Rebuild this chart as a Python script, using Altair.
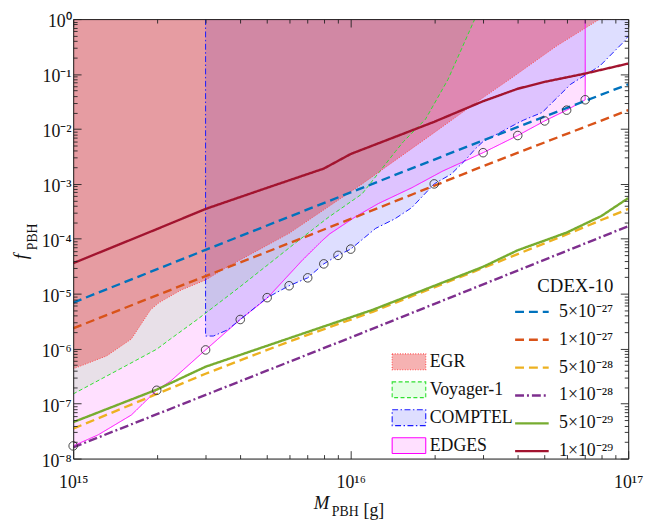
import altair as alt
import pandas as pd

FONT = "Liberation Serif"

# ---------------- excluded regions: lower boundary of each (M [g], f) ----------------
egr_M = [1e15, 1.32e15, 1.62e15, 1.9e15, 2.04e15, 2.45e15, 3e15, 3.6e15, 6e15, 1.1e16,
         1.86e16, 2.95e16, 3.9e16, 5.5e16, 7.9e16, 1e17]
egr_f = [4.3e-7, 7.4e-7, 1.5e-6, 5.1e-6, 6.9e-6, 1.17e-5, 1.78e-5, 3.1e-5, 1.26e-4, 1.0e-3,
         6.6e-3, 3.5e-2, 9.3e-2, 0.32, 1.0, 1.0]

voy_M = [1e15, 1.55e15, 2e15, 2.24e15, 2.8e15, 4e15, 6.3e15, 8.3e15, 1.1e16, 1.45e16,
         1.55e16, 1.86e16, 2.24e16, 2.8e16]
voy_f = [1.5e-7, 4.9e-7, 9.8e-7, 1.5e-6, 3.4e-6, 1.35e-5, 8.3e-5, 2.45e-4, 6.6e-4, 3.9e-3,
         5.9e-3, 1.5e-2, 7.9e-2, 1.0]

cmp_M = [3e15, 3.2e15, 3.6e15, 4e15, 5e15, 6e15, 7e15, 8e15, 9e15, 1e16, 1.23e16, 1.44e16,
         1.66e16, 2e16, 2.3e16, 2.57e16, 2.82e16, 3e16, 3.9e16, 4.2e16, 4.9e16, 6.2e16,
         7.9e16, 9.8e16, 1e17]
cmp_f = [1.7e-6, 1.7e-6, 2.2e-6, 3.4e-6, 8.5e-6, 1.4e-5, 1.95e-5, 3.5e-5, 5.0e-5, 6.5e-5,
         1.55e-4, 2.3e-4, 3.7e-4, 1.0e-3, 1.5e-3, 2.6e-3, 4.4e-3, 5.9e-3, 1.2e-2, 1.45e-2,
         2.0e-2, 6.5e-2, 0.14, 0.42, 0.5]

edg_M = [1e15, 1.23e15, 1.62e15, 2e15, 2.25e15, 3e15, 4e15, 5e15, 6.7e15, 7.9e15, 8.4e15,
         1.05e16, 1.26e16, 1.66e16, 2.14e16, 3e16, 4e16, 5e16, 6e16, 7e16]
edg_f = [1.7e-8, 2.7e-8, 6.2e-8, 1.75e-7, 2.6e-7, 9.5e-7, 3.4e-6, 8.3e-6, 4.1e-5, 9.3e-5,
         1.23e-4, 2.6e-4, 4.4e-4, 8.5e-4, 1.7e-3, 3.7e-3, 7.6e-3, 1.4e-2, 2.2e-2, 3.4e-2]

# ---------------- CDEX-10 projected lines ----------------
c1_M = [1e15, 3e15, 1e16, 3e16, 1e17]
c1_f = [6.9e-6, 6.3e-5, 7.0e-4, 6.2e-3, 6.5e-2]
c2_M = [1e15, 3e15, 1e16, 3e16, 1e17]
c2_f = [2.35e-6, 2.1e-5, 2.3e-4, 2.1e-3, 2.2e-2]
c3_M = [1e15, 3e15, 6e15, 1.2e16, 3e16, 6e16, 8e16, 1e17]
c3_f = [3.5e-8, 3.5e-7, 1.35e-6, 4.7e-6, 2.95e-5, 1.2e-4, 2.2e-4, 3.5e-4]
c4_M = [1e15, 1e16, 1e17]
c4_f = [1.6e-8, 1.6e-6, 1.7e-4]
c5_M = [1e15, 2e15, 3e15, 6e15, 1.2e16, 3e16, 4e16, 6e16, 8e16, 1e17]
c5_f = [4.6e-8, 1.8e-7, 4.7e-7, 1.55e-6, 5.1e-6, 3.1e-5, 6.2e-5, 1.3e-4, 2.6e-4, 5.5e-4]
c6_M = [1e15, 2e15, 3e15, 5e15, 8e15, 1e16, 2e16, 3e16, 4e16, 5e16, 7e16, 1e17]
c6_f = [3.6e-5, 1.5e-4, 3.5e-4, 8.5e-4, 1.9e-3, 3.5e-3, 1.35e-2, 3.2e-2, 5.4e-2, 7.2e-2,
        0.102, 0.155]

# ---------------- open circle markers ----------------
circ_M = [1e15, 2e15, 3e15, 4e15, 5e15, 6e15, 7e15, 8e15, 9e15, 1e16, 2e16, 3e16, 4e16,
          5e16, 6e16, 7e16]
circ_f = [1.7e-8, 1.75e-7, 9.5e-7, 3.4e-6, 8.5e-6, 1.4e-5, 1.95e-5, 3.5e-5, 5.0e-5, 6.5e-5,
          1.0e-3, 3.7e-3, 7.6e-3, 1.4e-2, 2.2e-2, 3.4e-2]

# ---------------- labels / styles ----------------
reg_names = ["EGR", "Voyager-1", "COMPTEL", "EDGES"]
reg_fill = ["rgba(224,0,0,0.3)", "rgba(0,255,0,0.1)", "rgba(0,0,255,0.13)", "rgba(255,0,255,0.12)"]
reg_stroke = ["#FF4A4A", "#30E030", "#1A1AFF", "#FF00FF"]
reg_dash = [[1, 1.6], [4, 2.5], [6, 2.5, 1.5, 2.5], [1, 0]]
reg_width = [1.0, 1.0, 1.1, 1.3]

cdex_names = ["5×10⁻²⁷", "1×10⁻²⁷", "5×10⁻²⁸", "1×10⁻²⁸", "5×10⁻²⁹", "1×10⁻²⁹"]
cdex_colors = ["#0072BD", "#D95319", "#EDB120", "#7E2F8E", "#77AC30", "#A2142F"]
cdex_dash = [[9, 5], [9, 5], [9, 5], [9, 3, 2, 3], [1, 0], [1, 0]]

x_dec = [1e15, 1e16, 1e17]
x_dec_labels = ["10¹⁵", "10¹⁶", "10¹⁷"]
y_dec = [1.0, 1e-1, 1e-2, 1e-3, 1e-4, 1e-5, 1e-6, 1e-7, 1e-8]
y_dec_labels = ["10⁰", "10⁻¹", "10⁻²", "10⁻³", "10⁻⁴", "10⁻⁵", "10⁻⁶", "10⁻⁷", "10⁻⁸"]

x_ticks = [m * 10.0 ** e for e in (15, 16) for m in range(1, 10)] + [1e17]
y_ticks = [m * 10.0 ** e for e in range(-8, 0) for m in range(1, 10)] + [1.0]

# ---------------- tables ----------------
rows = []
for name, Ms, fs in [("Voyager-1", voy_M, voy_f), ("EDGES", edg_M, edg_f),
                     ("COMPTEL", cmp_M, cmp_f), ("EGR", egr_M, egr_f)]:
    for m, f in zip(Ms, fs):
        rows.append({"region": name, "M": m, "f": f, "top": 1.0})
reg_df = pd.DataFrame(rows)

# boundary polylines (with the vertical edges of COMPTEL and EDGES)
rows = []
for name, Ms, fs in [("Voyager-1", voy_M, voy_f), ("EDGES", edg_M + [edg_M[-1]], edg_f + [1.0]),
                     ("COMPTEL", [cmp_M[0]] + cmp_M, [1.0] + cmp_f), ("EGR", egr_M, egr_f)]:
    for i, (m, f) in enumerate(zip(Ms, fs)):
        rows.append({"region": name, "M": m, "f": f, "i": i})
bnd_df = pd.DataFrame(rows)

rows = []
for name, Ms, fs in zip(cdex_names, [c1_M, c2_M, c3_M, c4_M, c5_M, c6_M],
                        [c1_f, c2_f, c3_f, c4_f, c5_f, c6_f]):
    for m, f in zip(Ms, fs):
        rows.append({"cdex": name, "M": m, "f": f})
cdex_df = pd.DataFrame(rows)

circ_df = pd.DataFrame({"M": circ_M, "f": circ_f})


def label_expr(vals, labs):
    s = ""
    for v, lab in zip(vals, labs):
        s += f"abs(datum.value/{v:g} - 1) < 1e-6 ? '{lab}' : "
    return s + "''"


def per_entry(values):
    s = ""
    for name, v in zip(reg_names[:-1], values[:-1]):
        s += f"datum.value == '{name}' ? {v} : "
    return s + f"{values[-1]}"


MINOR = "abs(log(datum.value)/LN10 - round(log(datum.value)/LN10)) > 1e-6"
tick_dash = {"condition": {"test": MINOR, "value": [4, 60]}, "value": [20, 0]}
TS = {"expr": "-8"}

common_axis = dict(grid=False, tickSize=TS, tickDash=tick_dash, tickColor="#222",
                   tickWidth=0.9, domainColor="#222", domainWidth=1, zindex=1,
                   labelFont=FONT, labelFontSize=18, labelColor="#111",
                   labelFlush=False, labelOverlap=False, titleFont=FONT,
                   titleColor="#111", titleFontWeight="normal")

x_axis_bottom = alt.Axis(orient="bottom", values=x_ticks, labelExpr=label_expr(x_dec, x_dec_labels),
                         labelPadding=23, title="M", titleFontStyle="italic", titleFontSize=19,
                         titleX=251, titleY=51, titleAlign="center", titleBaseline="alphabetic",
                         **common_axis)
x_axis_top = alt.Axis(orient="top", values=x_ticks, labels=False, title="PBH", titleFontSize=14,
                      titleX=275, titleY=503, titleAlign="center", titleBaseline="alphabetic",
                      **common_axis)
y_axis_left = alt.Axis(orient="left", values=y_ticks, labelExpr=label_expr(y_dec, y_dec_labels),
                       labelPadding=10, labelOffset=3, title="f", titleFontStyle="italic",
                       titleFontSize=19, titleAngle=270, titleX=-53, titleY=240,
                       titleAlign="center", titleBaseline="middle", **common_axis)
y_axis_right = alt.Axis(orient="right", values=y_ticks, labels=False, title="PBH", titleFontSize=14,
                        titleAngle=270, titleX=-603, titleY=220, titleAlign="center",
                        titleBaseline="middle", **common_axis)

xs = alt.Scale(type="log", domain=[1e15, 1e17], nice=False)
ys = alt.Scale(type="log", domain=[1e-8, 1.0], nice=False)

leg1 = alt.Legend(title=None, orient="none", legendX=329, legendY=336,
                  symbolType="M-1.7,-0.8H1.7V0.8H-1.7Z", symbolSize=400,
                  symbolStrokeWidth=1.1,
                  symbolStrokeColor={"expr": per_entry([f"'{c}'" for c in reg_stroke])},
                  symbolDash={"expr": per_entry([str(d) for d in reg_dash])},
                  labelFont=FONT, labelFontSize=18, labelColor="#111", labelOffset=10,
                  rowPadding=6.3, padding=0, labelLimit=0)
leg2 = alt.Legend(title="CDEX-10", orient="none", legendX=453, legendY=261,
                  symbolType="M-1.7,0H1.7", symbolSize=400, symbolStrokeWidth=2.4,
                  titleFont=FONT, titleFontSize=19, titleFontWeight="normal", titleColor="#111",
                  titleAnchor="end", titlePadding=5, labelFont=FONT, labelFontSize=18,
                  labelColor="#111", labelOffset=16, rowPadding=7.2, padding=0, labelLimit=0)

areas = alt.Chart(reg_df).mark_area(opacity=1, clip=True).encode(
    x=alt.X("M:Q", scale=xs, axis=x_axis_bottom),
    y=alt.Y("f:Q", scale=ys, axis=y_axis_left, stack=None),
    y2="top:Q",
    fill=alt.Fill("region:N", scale=alt.Scale(domain=reg_names, range=reg_fill), legend=leg1),
)

borders = alt.Chart(bnd_df).mark_line(clip=True).encode(
    x=alt.X("M:Q", scale=xs, axis=None),
    y=alt.Y("f:Q", scale=ys, axis=None),
    order=alt.Order("i:Q"),
    stroke=alt.Stroke("region:N", scale=alt.Scale(domain=reg_names, range=reg_stroke), legend=None),
    strokeDash=alt.StrokeDash("region:N", scale=alt.Scale(domain=reg_names, range=reg_dash), legend=None),
    strokeWidth=alt.StrokeWidth("region:N", scale=alt.Scale(domain=reg_names, range=reg_width), legend=None),
)

lines = alt.Chart(cdex_df).mark_line(strokeWidth=2.4, clip=True).encode(
    x=alt.X("M:Q", scale=xs, axis=None),
    y=alt.Y("f:Q", scale=ys, axis=None),
    stroke=alt.Stroke("cdex:N", scale=alt.Scale(domain=cdex_names, range=cdex_colors), legend=leg2),
    strokeDash=alt.StrokeDash("cdex:N", scale=alt.Scale(domain=cdex_names, range=cdex_dash), legend=leg2),
)

circles = alt.Chart(circ_df).mark_point(shape="circle", filled=False, size=75, color="#333",
                                        strokeWidth=0.9, opacity=1).encode(
    x=alt.X("M:Q", scale=xs, axis=x_axis_top),
    y=alt.Y("f:Q", scale=ys, axis=y_axis_right),
)

chart = alt.layer(areas, borders, lines, circles).resolve_scale(
    fill="independent", stroke="independent", strokeDash="independent",
    strokeWidth="independent"
).properties(
    width=562, height=445,
    padding={"left": 66, "top": 8, "right": 16, "bottom": 62},
    autosize=alt.AutoSizeParams(type="none"),
    title=alt.TitleParams(text="[g]", orient="bottom", anchor="start", frame="group", font=FONT,
                          fontSize=18, fontWeight="normal", color="#111", dx=294, dy=-3,
                          baseline="alphabetic", offset=0),
).configure_view(strokeWidth=0).configure(background="white", font=FONT)

chart.save("out.html", embed_options={"renderer": "svg", "actions": False})
